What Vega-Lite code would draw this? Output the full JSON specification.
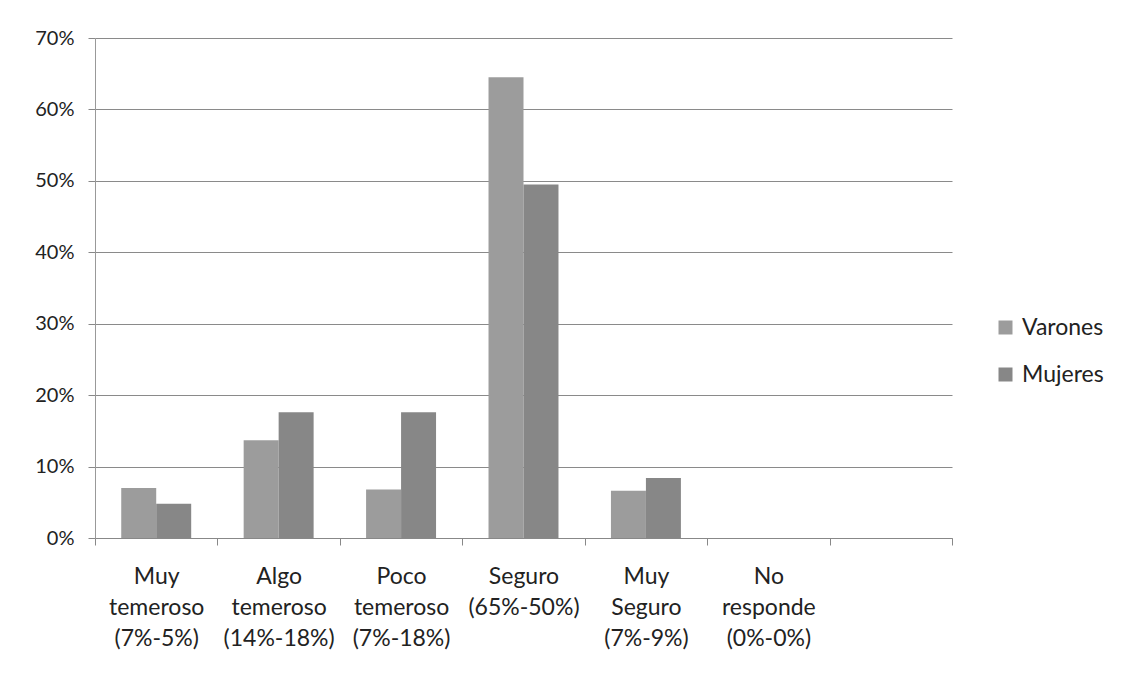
{
  "$schema": "https://vega.github.io/schema/vega-lite/v6.json",
  "width": 857,
  "height": 500,
  "autosize": {"type": "none"},
  "padding": {"left": 95, "top": 38, "right": 181, "bottom": 137},
  "background": "white",
  "data": {
    "values": [
      {"cat": "Muy|temeroso|(7%-5%)", "grupo": "Varones", "valor": 0.070},
      {"cat": "Muy|temeroso|(7%-5%)", "grupo": "Mujeres", "valor": 0.048},
      {"cat": "Algo|temeroso|(14%-18%)", "grupo": "Varones", "valor": 0.137},
      {"cat": "Algo|temeroso|(14%-18%)", "grupo": "Mujeres", "valor": 0.176},
      {"cat": "Poco|temeroso|(7%-18%)", "grupo": "Varones", "valor": 0.068},
      {"cat": "Poco|temeroso|(7%-18%)", "grupo": "Mujeres", "valor": 0.176},
      {"cat": "Seguro|(65%-50%)", "grupo": "Varones", "valor": 0.645},
      {"cat": "Seguro|(65%-50%)", "grupo": "Mujeres", "valor": 0.495},
      {"cat": "Muy|Seguro|(7%-9%)", "grupo": "Varones", "valor": 0.066},
      {"cat": "Muy|Seguro|(7%-9%)", "grupo": "Mujeres", "valor": 0.084},
      {"cat": "No|responde|(0%-0%)", "grupo": "Varones", "valor": 0.0},
      {"cat": "No|responde|(0%-0%)", "grupo": "Mujeres", "valor": 0.0}
    ]
  },
  "mark": {"type": "bar"},
  "encoding": {
    "x": {
      "field": "cat",
      "type": "nominal",
      "sort": null,
      "scale": {
        "domain": ["Muy|temeroso|(7%-5%)", "Algo|temeroso|(14%-18%)", "Poco|temeroso|(7%-18%)", "Seguro|(65%-50%)", "Muy|Seguro|(7%-9%)", "No|responde|(0%-0%)", " "],
        "paddingInner": 0,
        "paddingOuter": 0
      },
      "axis": {
        "title": null,
        "labelAngle": 0,
        "labelExpr": "split(datum.label, '|')",
        "labelFont": "Lato",
        "labelFontSize": 23,
        "labelColor": "#222222",
        "labelLineHeight": 31,
        "labelPadding": 20,
        "labelBaseline": "top",
        "tickBand": "extent",
        "tickSize": 7,
        "tickColor": "#888888",
        "domainColor": "#888888",
        "grid": false
      }
    },
    "xOffset": {"field": "grupo", "type": "nominal", "sort": ["Varones", "Mujeres"], "scale": {"paddingInner": 0, "paddingOuter": 0.75}},
    "y": {
      "field": "valor",
      "type": "quantitative",
      "scale": {"domain": [0, 0.7]},
      "axis": {
        "title": null,
        "format": ".0%",
        "values": [0, 0.1, 0.2, 0.3, 0.4, 0.5, 0.6, 0.7],
        "labelFont": "Lato",
        "labelFontSize": 20,
        "labelColor": "#222222",
        "labelPadding": 14,
        "tickSize": 7,
        "tickColor": "#888888",
        "domainColor": "#999999",
        "gridColor": "#8a8a8a",
        "gridWidth": 1
      }
    },
    "color": {
      "field": "grupo",
      "type": "nominal",
      "sort": ["Varones", "Mujeres"],
      "scale": {"domain": ["Varones", "Mujeres"], "range": ["#9c9c9c", "#878787"]},
      "legend": {
        "title": null,
        "orient": "none",
        "legendX": 899,
        "legendY": 278,
        "symbolType": "square",
        "symbolSize": 196,
        "symbolStrokeWidth": 0,
        "labelFont": "Lato",
        "labelFontSize": 23,
        "labelColor": "#222222",
        "labelOffset": 5,
        "rowPadding": 23
      }
    }
  },
  "config": {
    "view": {"stroke": null},
    "axis": {"domainWidth": 1, "tickWidth": 1}
  }
}
